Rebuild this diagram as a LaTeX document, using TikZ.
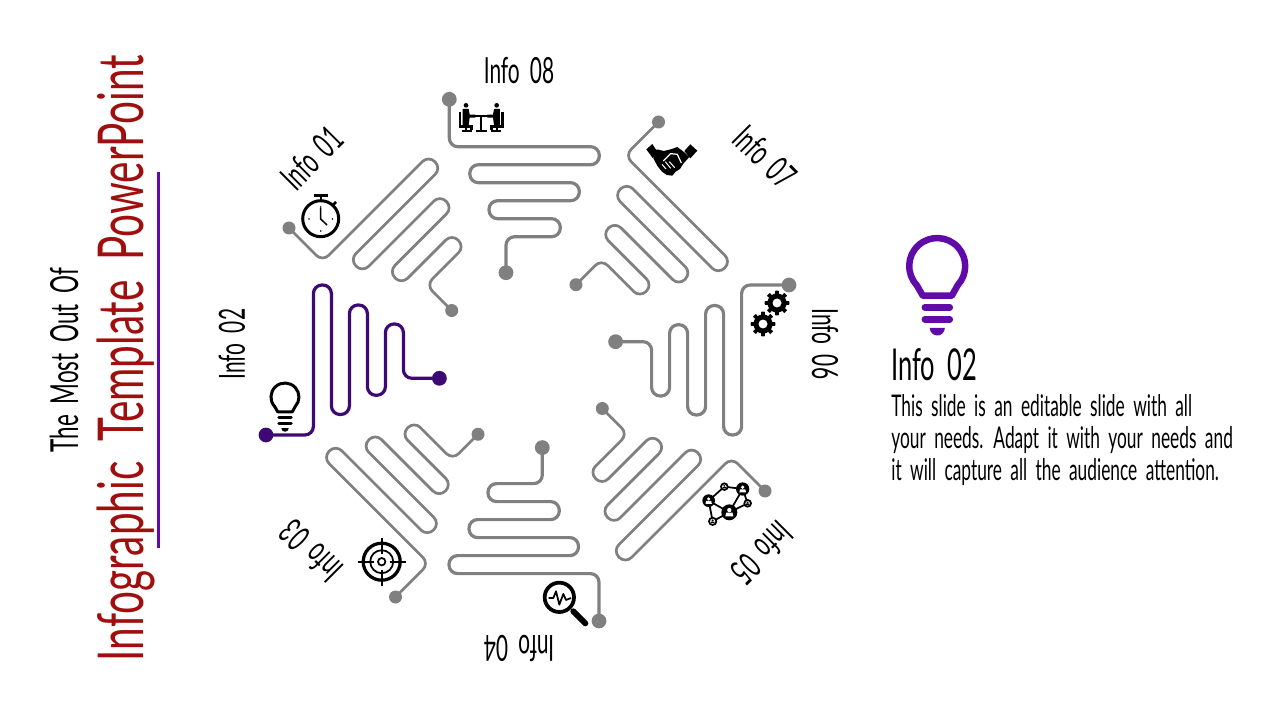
\documentclass[tikz,border=0pt]{standalone}
\usepackage{fontspec}
\setmainfont[FakeStretch=0.58, WordSpace=1.9]{Lato}
\newfontfamily\titlefont[FakeStretch=0.64, WordSpace=1.9]{Lato}
\usetikzlibrary{calc}
\definecolor{wiregray}{HTML}{808080}
\definecolor{deeppurple}{HTML}{3D0A75}
\definecolor{brightpurple}{HTML}{600AAA}
\definecolor{titlered}{HTML}{A00E0E}
\tikzset{
	evenarm/.style={line width=0.64mm, minimum size=2.96mm},
	oddarm/.style={line width=0.54mm, minimum size=2.6mm},
	armline/.style={rounded corners=1.72mm, line cap=round},
	armdot/.style={circle, fill, inner sep=0pt},
	infolabel/.style={font=\fontsize{20.5}{22}\selectfont}
}
% one serpentine arm: start dot, folds, end dot
\def\infoarm[#1](#2:#3)#4{
	\begin{scope}[shift={(#2)}, rotate=#3]
		\node[armdot, #1] (#4a) at (0, 0) {};
		\node[armdot, #1] (#4b) at (56.7, 173.4) {};
		\draw[armline, #1] (#4a.center) -- (0, 47.4) -- (150, 47.4) -- (150, 65.4) -- (20.5, 65.4) -- (20.5, 83.4) -- (130, 83.4) -- (130, 101.4) -- (39.7, 101.4) -- (39.7, 119.4) -- (111, 119.4) -- (111, 137.4) -- (56.7, 137.4) -- (#4b.center);
	\end{scope}
}
\def\infobulb[#1](#2:#3){
	\begin{scope}[shift={(#2)}, scale=#3, #1]
		\draw[line join=round] (-14.5, 29.7) -- (-20.7, 19) arc (137.4:402.6:28) -- (14.5, 29.7) -- cycle;
		\draw[line cap=round] (-12.5, 41.3) -- (12.5, 41.3);
		\draw[line cap=round] (-12.5, 53.3) -- (12.5, 53.3);
		\fill (-7.5, 62) -- (7.5, 62) arc (0:180:7.5) -- cycle;
	\end{scope}
}
\def\infogear(#1){
	\begin{scope}[shift={(#1)}]
		\fill[even odd rule] plot[domain=0:360, samples=193, variable=\t] (\t:{10.9+1.4*(cos(8*\t)>0?1:-1)}) -- cycle (0, 0) circle (4.6);
	\end{scope}
}
\def\infopeer(#1:#2){
	\fill (#1) circle (#2);
	\fill[white] ($(#1)+(0, -0.28*#2)$) circle (0.27*#2);
	\fill[white] ($(#1)+(-0.5*#2, 0.5*#2)$) -- ($(#1)+(0.5*#2, 0.5*#2)$) -- ($(#1)+(0.4*#2, 0.05*#2)$) -- ($(#1)+(-0.4*#2, 0.05*#2)$) -- cycle;
}
\def\infosmallpeer(#1:#2){
	\draw[fill=white, line width=0.35mm] (#1) circle (#2);
	\fill ($(#1)+(0, -0.25*#2)$) circle (0.3*#2);
	\fill ($(#1)+(-0.55*#2, 0.5*#2)$) -- ($(#1)+(0.55*#2, 0.5*#2)$) -- ($(#1)+(0.4*#2, 0.05*#2)$) -- ($(#1)+(-0.4*#2, 0.05*#2)$) -- cycle;
}

\begin{document}
\begin{tikzpicture}[x=0.2mm, y=-0.2mm]
	%%%%% PAGE %%%%%
	\useasboundingbox[fill=white] (0, 0) rectangle (1280, 720);

	%%%%% TITLE %%%%%
	\node[rotate=90, anchor=base, font=\fontsize{22}{24}\selectfont] (subtitle) at (78, 360) {The Most Out Of};
	\node[rotate=90, anchor=base, text=titlered, font=\titlefont\fontsize{36}{38}\selectfont] (title) at (143, 358) {Infographic Template PowerPoint};
	\fill[brightpurple] (157, 172) rectangle (160, 548);

	%%%%% ARMS %%%%%
	\infoarm[oddarm, color=wiregray](289, 228:45){one}
	\infoarm[evenarm, color=deeppurple](266, 435:90){two}
	\infoarm[oddarm, color=wiregray](395.5, 597:135){three}
	\infoarm[evenarm, color=wiregray](599, 621:180){four}
	\infoarm[oddarm, color=wiregray](765, 491:-135){five}
	\infoarm[evenarm, color=wiregray](789, 285:-90){six}
	\infoarm[oddarm, color=wiregray](658.5, 122:-45){seven}
	\infoarm[evenarm, color=wiregray](449.3, 99.3:0){eight}

	%%%%% LABELS %%%%%
	\node[infolabel, rotate=45] (infoone) at (312, 158) {Info 01};
	\node[infolabel, rotate=90] (infotwo) at (232, 344) {Info 02};
	\node[infolabel, rotate=135] (infothree) at (311, 551) {Info 03};
	\node[infolabel, rotate=180] (infofour) at (519, 648) {Info 04};
	\node[infolabel, rotate=225] (infofive) at (762, 553) {Info 05};
	\node[infolabel, rotate=270] (infosix) at (825, 344) {Info 06};
	\node[infolabel, rotate=315] (infoseven) at (765, 157) {Info 07};
	\node[infolabel] (infoeight) at (519, 71) {Info 08};

	%%%%% STOPWATCH %%%%%
	\draw[line width=0.6mm] (320.7, 218.7) circle (18);
	\draw[line width=0.5mm] (314.3, 195.5) -- (328.3, 195.5);
	\draw[line width=0.5mm] (321, 195.5) -- (321, 200);
	\draw[line width=0.5mm] (333, 205) -- (336, 202);
	\draw[line width=0.3mm] (320.7, 208) -- (320.7, 219) -- (327, 225);
	\fill (320.7, 207) circle (0.9);
	\fill (320.7, 231) circle (0.9);
	\fill (309, 219) circle (0.9);
	\fill (332.5, 219) circle (0.9);

	%%%%% BULB %%%%%
	\infobulb[line width=0.6mm, black](285, 397:0.5)
	\infobulb[line width=1.3mm, brightpurple](937.3, 266:1)

	%%%%% TARGET %%%%%
	\draw[line width=0.65mm] (381.7, 561.7) circle (18.5);
	\draw[line width=0.35mm] (381.7, 561.7) circle (11.5);
	\draw[line width=0.35mm] (381.7, 561.7) circle (3.7);
	\draw[line width=0.35mm] (381.7, 537.5) -- (381.7, 554);
	\draw[line width=0.35mm] (381.7, 569.5) -- (381.7, 586);
	\draw[line width=0.35mm] (357.5, 561.7) -- (374, 561.7);
	\draw[line width=0.35mm] (389.5, 561.7) -- (406, 561.7);

	%%%%% MAGNIFIER %%%%%
	\begin{scope}[shift={(536, 574)}, scale=0.3333]
		\draw[line width=0.75mm] (70, 70) circle (44);
		\draw[line width=1.2mm, line cap=round] (112, 112) -- (148, 148);
		\draw[line width=0.35mm, line join=round] (38, 72) -- (52, 72) -- (60, 52) -- (70, 92) -- (82, 60) -- (90, 78) -- (105, 72);
	\end{scope}

	%%%%% GEARS %%%%%
	\infogear(777, 303)
	\infogear(763, 324)

	%%%%% NETWORK %%%%%
	\begin{scope}[shift={(696, 474)}, scale=0.3333]
		\draw[line width=0.35mm] (38, 80) -- (85, 38) -- (140, 45) -- (155, 88) -- (100, 115) -- (50, 142) -- (38, 80) -- (100, 115) -- (140, 45);
		\infopeer(100, 115:24)
		\infopeer(38, 80:19)
		\infopeer(140, 45:20)
		\infosmallpeer(85, 38:10)
		\infosmallpeer(155, 88:10)
		\infosmallpeer(50, 142:11)
	\end{scope}

	%%%%% HANDSHAKE %%%%%
	\begin{scope}[shift={(640, 135)}, scale=0.3333]
		\fill (19, 43) -- (37, 27) -- (54, 53) -- (38, 69) -- cycle;
		\fill (133, 48) -- (151, 28) -- (172, 47) -- (151, 70) -- cycle;
		\fill (50, 43) -- (72, 48) -- (92, 43) -- (112, 36) -- (133, 52) -- (148, 66) -- (130, 86) -- (120, 102) -- (107, 110) -- (97, 122) -- (80, 120) -- (66, 110) -- (53, 94) -- (40, 70) -- cycle;
		\draw[white, line width=0.25mm, line join=round] (70, 78) -- (92, 56) -- (112, 58) -- (124, 84);
		\draw[white, line width=0.2mm] (66, 88) -- (78, 102) (76, 80) -- (92, 100) (88, 80) -- (104, 98);
	\end{scope}

	%%%%% MEETING %%%%%
	\begin{scope}[shift={(452, 97)}, scale=0.3333]
		\draw[line width=0.4mm] (52, 58) -- (124, 58) (88, 58) -- (88, 103) (72, 103) -- (104, 103);
		\foreach \side in {1, -1} {
			\begin{scope}[shift={(88, 0)}, xscale=\side, shift={(-88, 0)}]
				\fill (42, 25) circle (7);
				\fill (32, 36) -- (50, 36) -- (53, 53) -- (70, 53) -- (70, 62) -- (53, 62) -- (50, 84) -- (32, 84) -- cycle;
				\draw[line width=0.55mm] (24, 46) -- (24, 89) -- (58, 89) -- (58, 100);
				\draw[line width=0.4mm] (42, 89) -- (42, 103) (30, 103) -- (60, 103);
			\end{scope}
		}
	\end{scope}

	%%%%% TEXT %%%%%
	\node[anchor=base west, inner sep=0pt, font=\fontsize{25}{27}\selectfont] (heading) at (891, 381) {Info 02};
	\node[anchor=north west, inner sep=0pt, align=left, font=\fontsize{17}{18.2}\selectfont] (body) at (891, 394) {This slide is an editable slide with all\\your needs. Adapt it with your needs and\\it will capture all the audience attention.};
\end{tikzpicture}
\end{document}
